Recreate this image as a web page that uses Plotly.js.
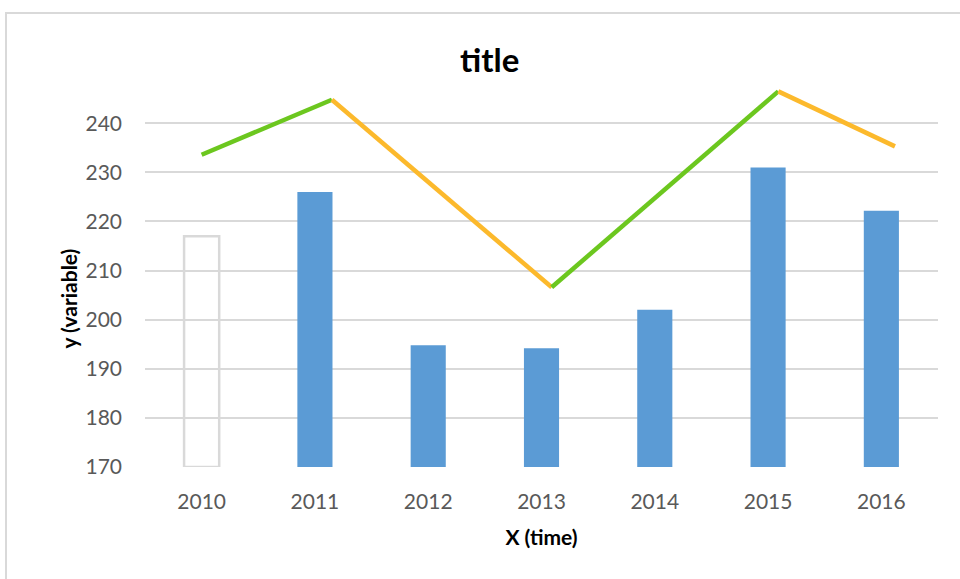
<!DOCTYPE html>
<html>
<head>
<meta charset="utf-8">
<script src="https://cdn.plot.ly/plotly-3.0.1.min.js"></script>
<style>
  html, body { margin: 0; padding: 0; background: #ffffff; overflow: hidden; }
  #frame { position: absolute; left: 5px; top: 12px; width: 1100px; height: 700px;
           border: 2px solid #d9d9d9; box-sizing: border-box; }
  #chart { position: absolute; left: 0; top: 0; width: 960px; height: 579px; }
</style>
</head>
<body>
<div id="frame"></div>
<div id="chart"></div>
<script>
// ---- data ----
const years = [2010, 2011, 2012, 2013, 2014, 2015, 2016];
const tickLabels = ["2010", "2011", "2012", "2013", "2014", "2015", "2016"];
const barValues = [217, 226, 194.8, 194.2, 202, 231, 222.2];
// trend line vertices (x positions)
const lineX = [2010.0, 2011.15, 2013.09, 2015.09, 2016.12];
const lineY = [233.6, 244.8, 206.6, 246.5, 235.3];
const yTicks = [170, 180, 190, 200, 210, 220, 230, 240];

const BLUE = '#5b9bd5';
const GREEN = '#6cc71f';
const ORANGE = '#fcb92c';
const GRID = '#d9d9d9';
const TICK = '#595959';
const FONT = 'Lato, "Open Sans", sans-serif';

const traces = [];
traces.push({
  type: 'bar',
  x: years,
  y: barValues.map(v => v - 170),
  base: 170,
  width: 0.31,
  marker: {
    color: years.map((y, i) => i === 0 ? 'rgba(0,0,0,0)' : BLUE),
    line: { color: years.map((y, i) => i === 0 ? GRID : BLUE), width: years.map((y, i) => i === 0 ? 2.5 : 0) }
  },
  hoverinfo: 'x+y',
  showlegend: false
});

// coloured segments: green when rising, orange when falling
for (let i = 0; i < lineX.length - 1; i++) {
  traces.push({
    type: 'scatter',
    mode: 'lines',
    x: [lineX[i], lineX[i + 1]],
    y: [lineY[i], lineY[i + 1]],
    line: { color: lineY[i + 1] >= lineY[i] ? GREEN : ORANGE, width: 4.5 },
    cliponaxis: false,
    showlegend: false
  });
}

const layout = {
  width: 960,
  height: 579,
  paper_bgcolor: 'rgba(0,0,0,0)',
  plot_bgcolor: 'rgba(0,0,0,0)',
  margin: { l: 145, r: 22, t: 84, b: 112 },
  font: { family: FONT, color: TICK },
  title: {
    text: '<b>title</b>',
    font: { family: FONT, size: 33, color: '#000000' },
    xref: 'container', x: 0.51, xanchor: 'center',
    yref: 'container', y: 0.896, yanchor: 'middle'
  },
  xaxis: {
    type: 'linear',
    range: [2009.5, 2016.5],
    tickvals: years,
    ticktext: tickLabels,
    showgrid: false,
    zeroline: false,
    showline: false,
    ticks: '',
    ticklabelstandoff: 20,
    tickfont: { family: FONT, size: 21, color: TICK },
    title: {
      text: '<b>X (time)</b>',
      font: { family: FONT, size: 21, color: '#000000' },
      standoff: 18
    }
  },
  yaxis: {
    range: [170, 248],
    tickvals: yTicks,
    showgrid: true,
    gridcolor: GRID,
    gridwidth: 2,
    zeroline: false,
    showline: false,
    ticks: '',
    ticklabelstandoff: 22,
    tickfont: { family: FONT, size: 21, color: TICK }
  },
  annotations: [{
    text: '<b>y (variable)</b>',
    xref: 'paper', yref: 'paper',
    x: -0.097, y: 0.44,
    xanchor: 'center', yanchor: 'middle',
    textangle: -90,
    showarrow: false,
    font: { family: FONT, size: 21, color: '#000000' }
  }]
};

Plotly.newPlot('chart', traces, layout, { displayModeBar: false, staticPlot: true });
</script>
</body>
</html>
